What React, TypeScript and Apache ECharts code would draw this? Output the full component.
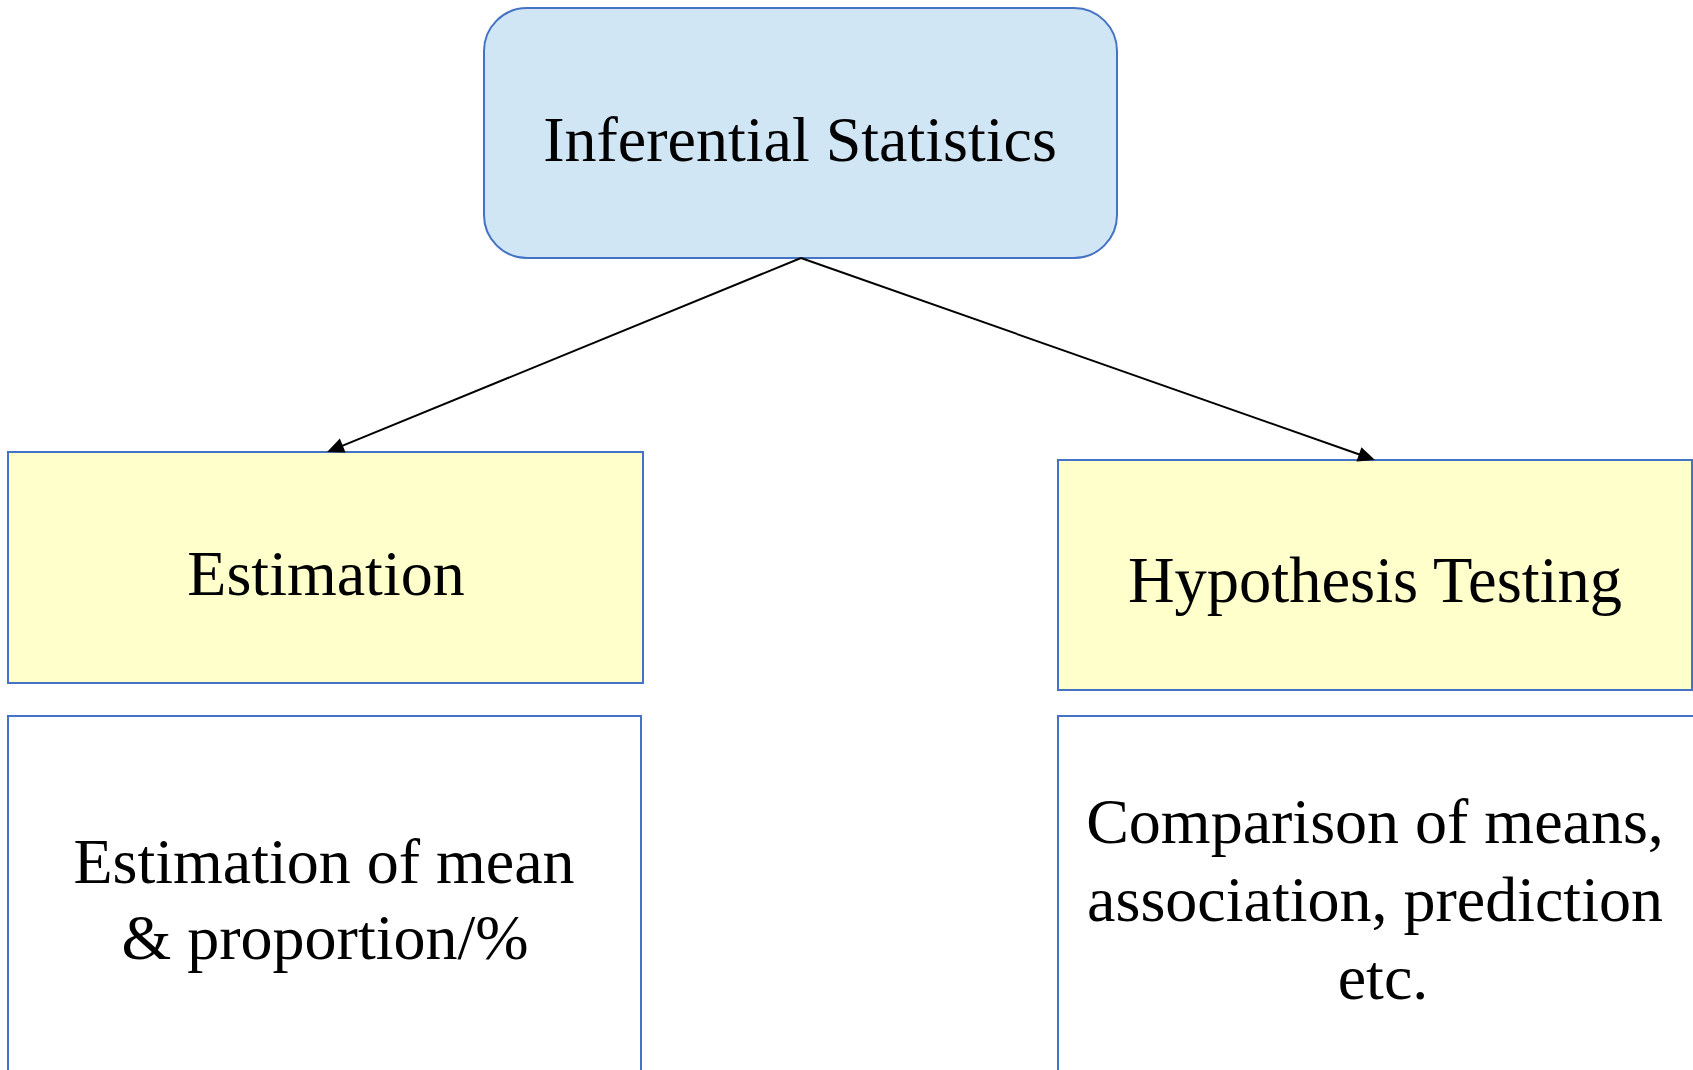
import React, { useEffect, useRef } from "react";
import * as echarts from "echarts";

// ---- content ----
const rootLabel = "Inferential Statistics";
const branchLabels = ["Estimation", "Hypothesis Testing"];
const detailLinesLeft = ["Estimation of mean", "& proportion/%"];
const detailLinesRight = ["Comparison of means,", "association, prediction", "etc."];

// ---- layout (pixels) ----
const ROOT_BOX = { x: 484, y: 8, w: 633, h: 250, r: 43 };
const BRANCH_BOXES = [
  { x: 8, y: 452, w: 635, h: 231 },
  { x: 1058, y: 460, w: 634, h: 230 },
];
const DETAIL_BOXES = [
  { x: 8, y: 716, w: 633, h: 400 },
  { x: 1058, y: 716, w: 700, h: 400 },
];
const ARROW_START = [801, 258];
const ARROW_TIPS = [
  [327, 452],
  [1375, 460],
];
const ROOT_TEXT = { x: 800, y: 139, size: 64 };
const BRANCH_TEXT = [
  { x: 326, y: 573, size: 64 },
  { x: 1375, y: 580, size: 64.5 },
];
const DETAIL_TEXT_LEFT = [
  { x: 324, y: 861 },
  { x: 325, y: 937 },
];
const DETAIL_TEXT_RIGHT = [
  { x: 1375, y: 821 },
  { x: 1375, y: 899 },
  { x: 1383, y: 977 },
];

const FONT = "'Liberation Serif', 'Times New Roman', serif";
const BLUE = "#4472C4";

function textEl(text: string, x: number, y: number, size: number) {
  return {
    type: "text",
    x,
    y,
    style: {
      text,
      fill: "#000",
      fontFamily: FONT,
      fontSize: size,
      textAlign: "center",
      textVerticalAlign: "middle",
    },
    z: 10,
  };
}

function arrowEls(from: number[], to: number[]) {
  const dx = to[0] - from[0];
  const dy = to[1] - from[1];
  const len = Math.sqrt(dx * dx + dy * dy);
  const ux = dx / len;
  const uy = dy / len;
  const headLen = 17;
  const headHalf = 7.5;
  const bx = to[0] - ux * headLen;
  const by = to[1] - uy * headLen;
  const px = -uy;
  const py = ux;
  return [
    {
      type: "line",
      shape: { x1: from[0], y1: from[1], x2: bx + ux * 2, y2: by + uy * 2 },
      style: { stroke: "#000", lineWidth: 1.9 },
      z: 5,
    },
    {
      type: "polygon",
      shape: {
        points: [
          [to[0], to[1]],
          [bx + px * headHalf, by + py * headHalf],
          [bx - px * headHalf, by - py * headHalf],
        ],
      },
      style: { fill: "#000" },
      z: 6,
    },
  ];
}

export default function App() {
  const ref = useRef<HTMLDivElement>(null);
  useEffect(() => {
    if (!ref.current) return;
    const chart = echarts.init(ref.current, null, { renderer: "svg" });
    const elements: any[] = [];

    elements.push({
      type: "rect",
      shape: { x: ROOT_BOX.x, y: ROOT_BOX.y, width: ROOT_BOX.w, height: ROOT_BOX.h, r: ROOT_BOX.r },
      style: { fill: "#D0E6F4", stroke: BLUE, lineWidth: 2 },
      z: 1,
    });
    elements.push(textEl(rootLabel, ROOT_TEXT.x, ROOT_TEXT.y, ROOT_TEXT.size));

    BRANCH_BOXES.forEach((b, i) => {
      elements.push({
        type: "rect",
        shape: { x: b.x, y: b.y, width: b.w, height: b.h },
        style: { fill: "#FFFFCC", stroke: BLUE, lineWidth: 2 },
        z: 1,
      });
      elements.push(textEl(branchLabels[i], BRANCH_TEXT[i].x, BRANCH_TEXT[i].y, BRANCH_TEXT[i].size));
    });

    DETAIL_BOXES.forEach((b) => {
      elements.push({
        type: "rect",
        shape: { x: b.x, y: b.y, width: b.w, height: b.h },
        style: { fill: "#FFFFFF", stroke: BLUE, lineWidth: 2 },
        z: 1,
      });
    });
    detailLinesLeft.forEach((t, i) => {
      elements.push(textEl(t, DETAIL_TEXT_LEFT[i].x, DETAIL_TEXT_LEFT[i].y, 64));
    });
    detailLinesRight.forEach((t, i) => {
      elements.push(textEl(t, DETAIL_TEXT_RIGHT[i].x, DETAIL_TEXT_RIGHT[i].y, 64));
    });

    ARROW_TIPS.forEach((tip) => {
      elements.push(...arrowEls(ARROW_START, tip));
    });

    chart.setOption({
      animation: false,
      backgroundColor: "#FFFFFF",
      graphic: { elements },
    });
    return () => chart.dispose();
  }, []);

  return (
    <div
      ref={ref}
      style={{ position: "fixed", left: 0, top: 0, width: 1693, height: 1070 }}
    />
  );
}
